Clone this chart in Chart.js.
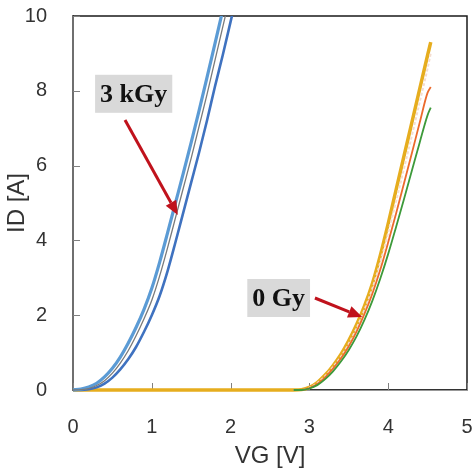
<!DOCTYPE html>
<html><head><meta charset="utf-8">
<script src="https://cdn.jsdelivr.net/npm/chart.js@4"></script>
<style>html,body{margin:0;padding:0;background:#fff}#wrap{width:476px;height:474px}</style>
</head><body><div id="wrap"><canvas id="c" width="476" height="474"></canvas></div>
<script>
// ---- data ----
const vg3k = [0,0.1,0.2,0.3,0.4,0.5,0.6,0.7,0.8,0.9,1.0,1.1,1.2,1.3,1.4,1.5,1.6,1.7,1.8,1.9,2.0,2.1];
const id3kLeft  = [0.003,0.025,0.08,0.18,0.35,0.58,0.88,1.25,1.67,2.15,2.72,3.42,4.2,5.0,5.8,6.62,7.47,8.35,9.25,10.15];
const id3kMid   = [0,0.01,0.04,0.12,0.25,0.45,0.72,1.05,1.45,1.9,2.4,3.05,3.8,4.6,5.4,6.2,7.05,7.9,8.8,9.7,10.6];
const id3kRight = [0,0,0.02,0.07,0.17,0.33,0.55,0.82,1.15,1.55,2.0,2.52,3.18,3.95,4.75,5.55,6.35,7.2,8.1,8.95,9.85,10.75];

// yellow curve runs flat along the axis from 0 V
const vg0Long = [0,2.8,2.9,3.0,3.1,3.2,3.3,3.4,3.5,3.6,3.7,3.8,3.9,4.0,4.1,4.2,4.3,4.4,4.5,4.54];
const id0Yellow = [0,0,0.01,0.07,0.2,0.4,0.65,0.95,1.32,1.75,2.25,2.85,3.6,4.45,5.35,6.25,7.15,8.05,8.95,9.3];
const vg0 = [2.8,2.9,3.0,3.1,3.2,3.3,3.4,3.5,3.6,3.7,3.8,3.9,4.0,4.1,4.2,4.3,4.4,4.5,4.54];
const id0Beige  = [0,0,0.06,0.18,0.37,0.61,0.89,1.24,1.66,2.15,2.72,3.42,4.2,5.05,5.92,6.8,7.7,8.6,9.0];
const id0Orange = [0,0,0.05,0.16,0.34,0.57,0.84,1.17,1.57,2.04,2.58,3.22,3.95,4.72,5.52,6.33,7.15,7.95,8.1];
const id0Green  = [0,0,0.04,0.13,0.29,0.5,0.76,1.07,1.44,1.88,2.39,2.98,3.64,4.36,5.1,5.86,6.62,7.35,7.55];

const xTicks = [0,1,2,3,4,5];
const yTicks = [0,2,4,6,8,10];
const xTitle = 'VG [V]';
const yTitle = 'ID [A]';

const pts = (xs, ys) => ys.map((v, i) => ({x: xs[i], y: v}));

const notes = [
  {text: '3 kGy', at: [0.77, 7.92], from: [0.66, 7.22], to: [1.33, 4.68]},
  {text: '0 Gy',  at: [2.61, 2.46], from: [3.07, 2.46], to: [3.67, 1.95]}
];

const decor = {
  id: 'decor',
  beforeDatasetsDraw(chart) {
    const {ctx, chartArea: a, scales: {x, y}} = chart;
    ctx.save();
    ctx.strokeStyle = '#1a1a1a'; ctx.lineWidth = 1.5;
    ctx.beginPath(); ctx.moveTo(a.left, a.top); ctx.lineTo(a.right, a.top); ctx.lineTo(a.right, a.bottom); ctx.stroke();
    ctx.strokeStyle = '#808080'; ctx.lineWidth = 1;
    x.ticks.forEach(t => { const p = Math.round(x.getPixelForValue(t.value)) + 0.5; ctx.beginPath(); ctx.moveTo(p, a.bottom); ctx.lineTo(p, a.bottom - 7); ctx.stroke(); });
    y.ticks.forEach(t => { const p = Math.round(y.getPixelForValue(t.value)) + 0.5; ctx.beginPath(); ctx.moveTo(a.left, p); ctx.lineTo(a.left + 7, p); ctx.stroke(); });
    ctx.restore();
  },
  afterDatasetsDraw(chart) {
    const {ctx, scales: {x, y}} = chart;
    ctx.save();
    notes.forEach(n => {
      const x1 = x.getPixelForValue(n.from[0]), y1 = y.getPixelForValue(n.from[1]);
      const x2 = x.getPixelForValue(n.to[0]), y2 = y.getPixelForValue(n.to[1]);
      const ang = Math.atan2(y2 - y1, x2 - x1);
      const hl = 14, hw = 6;
      ctx.strokeStyle = '#c0121c'; ctx.fillStyle = '#c0121c'; ctx.lineWidth = 3;
      ctx.beginPath(); ctx.moveTo(x1, y1);
      ctx.lineTo(x2 - hl * Math.cos(ang), y2 - hl * Math.sin(ang)); ctx.stroke();
      ctx.beginPath(); ctx.moveTo(x2, y2);
      ctx.lineTo(x2 - hl * Math.cos(ang) + hw * Math.sin(ang), y2 - hl * Math.sin(ang) - hw * Math.cos(ang));
      ctx.lineTo(x2 - hl * Math.cos(ang) - hw * Math.sin(ang), y2 - hl * Math.sin(ang) + hw * Math.cos(ang));
      ctx.closePath(); ctx.fill();
      ctx.font = 'bold 26px "Liberation Serif", "Times New Roman", serif';
      const w = ctx.measureText(n.text).width + 10, h = 38;
      const cx = x.getPixelForValue(n.at[0]), cy = y.getPixelForValue(n.at[1]);
      ctx.fillStyle = '#d9d9d9';
      ctx.fillRect(cx - w / 2, cy - h / 2, w, h);
      ctx.fillStyle = '#111';
      ctx.textAlign = 'center'; ctx.textBaseline = 'middle';
      ctx.fillText(n.text, cx, cy + 1);
    });
    ctx.restore();
  }
};

const lineDs = (label, data, color, width, extra) => Object.assign({
  label, data, borderColor: color, backgroundColor: color, borderWidth: width,
  pointRadius: 0, fill: false, cubicInterpolationMode: 'monotone'
}, extra || {});

const clip3k = {left: 3, top: 0, right: 3, bottom: 3};

new Chart(document.getElementById('c'), {
  type: 'line',
  data: {
    datasets: [
      lineDs('3 kGy mid', pts(vg3k, id3kMid), '#7a7a7a', 1.3, {clip: clip3k}),
      lineDs('3 kGy left', pts(vg3k, id3kLeft), '#5b9bd5', 3.2, {clip: clip3k}),
      lineDs('3 kGy right', pts(vg3k, id3kRight), '#3f72c0', 2.6, {clip: clip3k}),
      lineDs('0 Gy green', pts(vg0, id0Green), '#3d9a3a', 1.8, {clip: 5}),
      lineDs('0 Gy orange', pts(vg0, id0Orange), '#ec6a2c', 1.8, {clip: 5}),
      lineDs('0 Gy beige', pts(vg0, id0Beige), '#f4ddd0', 2, {clip: 5, borderDash: [3, 2]}),
      lineDs('0 Gy yellow', pts(vg0Long, id0Yellow), '#e6ad1e', 3.5, {clip: 5})
    ]
  },
  options: {
    responsive: false, animation: false,
    layout: {padding: {top: 16, right: 9, left: 0, bottom: 0}},
    plugins: {legend: {display: false}, tooltip: {enabled: false}},
    scales: {
      x: {
        type: 'linear', min: 0, max: 5,
        afterBuildTicks: s => { s.ticks = xTicks.map(v => ({value: v})); },
        afterFit: s => { s.height = 84; s.paddingLeft = 0; s.paddingRight = 0; },
        grid: {display: false, drawTicks: false},
        border: {display: true, color: '#333', width: 1.5},
        ticks: {color: '#333', padding: 25, font: {family: '"Liberation Sans", Arial, sans-serif', size: 20}},
        title: {display: true, text: xTitle, color: '#333', padding: {top: 0, bottom: 3},
                font: {family: '"Liberation Sans", Arial, sans-serif', size: 24}}
      },
      y: {
        type: 'linear', min: 0, max: 10,
        afterBuildTicks: s => { s.ticks = yTicks.map(v => ({value: v})); },
        afterFit: s => { s.width = 73; s.paddingTop = 0; s.paddingBottom = 0; },
        grid: {display: false, drawTicks: false},
        border: {display: true, color: '#6f6f6f', width: 2},
        ticks: {color: '#333', padding: 26, font: {family: '"Liberation Sans", Arial, sans-serif', size: 20}},
        title: {display: true, text: yTitle, color: '#333', padding: {top: 3, bottom: 0},
                font: {family: '"Liberation Sans", Arial, sans-serif', size: 24}}
      }
    }
  },
  plugins: [decor]
});
</script>
</body></html>
